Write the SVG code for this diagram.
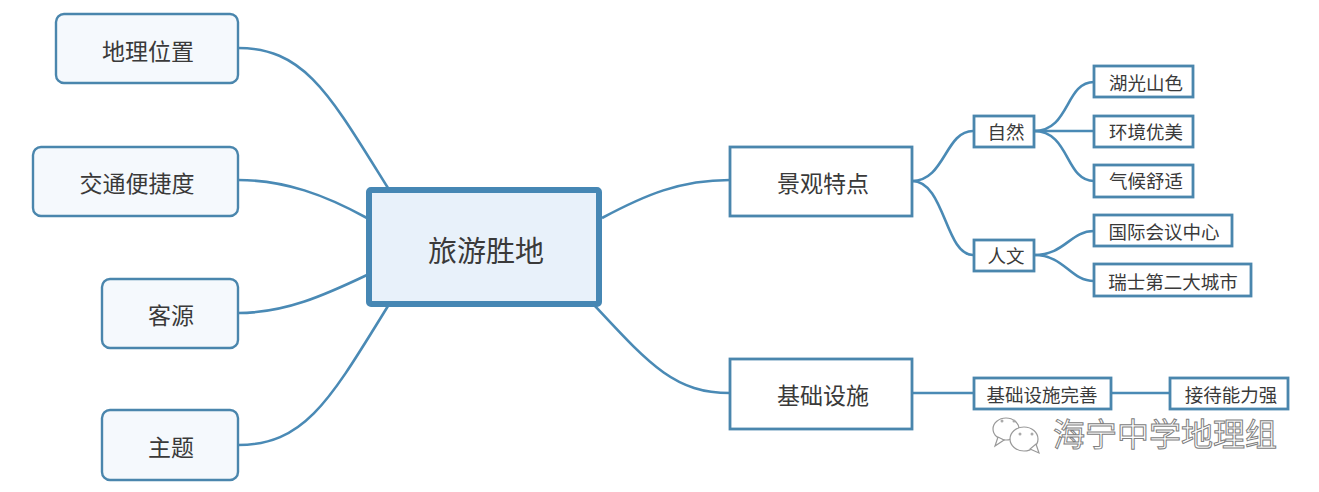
<svg xmlns="http://www.w3.org/2000/svg" width="1319" height="492" viewBox="0 0 1319 492">
<style>
text{font-family:"Noto Sans CJK SC","Liberation Serif",serif;fill:#3a3a3a;text-anchor:middle;dominant-baseline:central}
.c{fill:none;stroke:#4a8ab5;stroke-width:2.6}
.n{fill:#f5f9fd;stroke:#4a86ad;stroke-width:2.4}
.s{fill:#fff;stroke:#4a86ad;stroke-width:2.8}
.t1{font-size:23px}
.t2{font-size:18.5px}
.w{font-size:32px;fill:#fff;stroke:#808080;stroke-width:1}
.b{fill:#fff;stroke:#999;stroke-width:1.2}
.d{fill:#aaa}
</style>
<rect width="1319" height="492" fill="#fff"/>
<g id="connectors">
<path class="c" d="M238 48C305 48 330 95 388 188"/>
<path class="c" d="M238 180C285 180 325 195 367 218"/>
<path class="c" d="M238 313C285 313 325 295 367 275"/>
<path class="c" d="M238 445C305 445 330 400 388 306"/>
<path class="c" d="M602 218C645 195 680 180 730 180"/>
<path class="c" d="M595 306C650 365 675 393 730 393"/>
<path class="c" d="M912 181C945 181 945 131 973 131"/>
<path class="c" d="M912 181C945 181 945 255 973 255"/>
<path class="c" d="M912 393H973"/>
<path class="c" d="M1034 131C1070 131 1065 82 1094 82"/>
<path class="c" d="M1034 131H1094"/>
<path class="c" d="M1034 131C1070 131 1065 181 1094 181"/>
<path class="c" d="M1034 255C1065 255 1070 231 1094 231"/>
<path class="c" d="M1034 255C1065 255 1070 281 1094 281"/>
<path class="c" d="M1111 393H1170"/>
</g>
<g id="root"><rect x="369" y="190" width="230" height="114" rx="2" fill="#e8f1fa" stroke="#4687b4" stroke-width="6"/><text x="486" y="249" font-size="29">旅游胜地</text></g>
<g id="n1"><rect class="n" x="56" y="14" width="182" height="69" rx="8"/><text class="t1" x="148" y="50">地理位置</text></g>
<g id="n2"><rect class="n" x="33" y="147" width="205" height="69" rx="8"/><text class="t1" x="137" y="182">交通便捷度</text></g>
<g id="n3"><rect class="n" x="102" y="279" width="136" height="69" rx="8"/><text class="t1" x="171" y="314">客源</text></g>
<g id="n4"><rect class="n" x="102" y="410" width="136" height="70" rx="8"/><text class="t1" x="171" y="446">主题</text></g>
<g id="n5"><rect class="s" x="730" y="147" width="182" height="69"/><text class="t1" x="823" y="182">景观特点</text></g>
<g id="n6"><rect class="s" x="730" y="359" width="182" height="70"/><text class="t1" x="823" y="394">基础设施</text></g>
<g id="n7"><rect class="s" x="974" y="116" width="60" height="31"/><text class="t2" x="1006" y="131">自然</text></g>
<g id="n8"><rect class="s" x="974" y="240" width="60" height="31"/><text class="t2" x="1006" y="255">人文</text></g>
<g id="n9"><rect class="s" x="1094" y="66" width="99" height="31"/><text class="t2" x="1146" y="82">湖光山色</text></g>
<g id="n10"><rect class="s" x="1094" y="116" width="99" height="31"/><text class="t2" x="1146" y="131">环境优美</text></g>
<g id="n11"><rect class="s" x="1094" y="165" width="99" height="32"/><text class="t2" x="1146" y="180">气候舒适</text></g>
<g id="n12"><rect class="s" x="1094" y="215" width="138" height="31"/><text class="t2" x="1164" y="231">国际会议中心</text></g>
<g id="n13"><rect class="s" x="1094" y="264" width="157" height="32"/><text class="t2" x="1173" y="281">瑞士第二大城市</text></g>
<g id="n14"><rect class="s" x="974" y="378" width="137" height="31"/><text class="t2" x="1042" y="394">基础设施完善</text></g>
<g id="n15"><rect class="s" x="1170" y="378" width="118" height="31"/><text class="t2" x="1231" y="394">接待能力强</text></g>
<g id="watermark">
<ellipse class="b" cx="1006" cy="429" rx="13" ry="11"/>
<path class="b" d="M998 437L995 446L1004 440Z"/>
<ellipse class="b" cx="1024" cy="439" rx="14" ry="12"/>
<path class="b" d="M1030 449L1039 453L1036 444Z"/>
<circle class="d" cx="1002" cy="421" r="1.5"/><circle class="d" cx="1014" cy="421" r="1.5"/>
<circle class="d" cx="1020" cy="434" r="1.5"/><circle class="d" cx="1032" cy="434" r="1.5"/>
<text class="w" x="1165" y="432">海宁中学地理组</text>
</g>
</svg>
